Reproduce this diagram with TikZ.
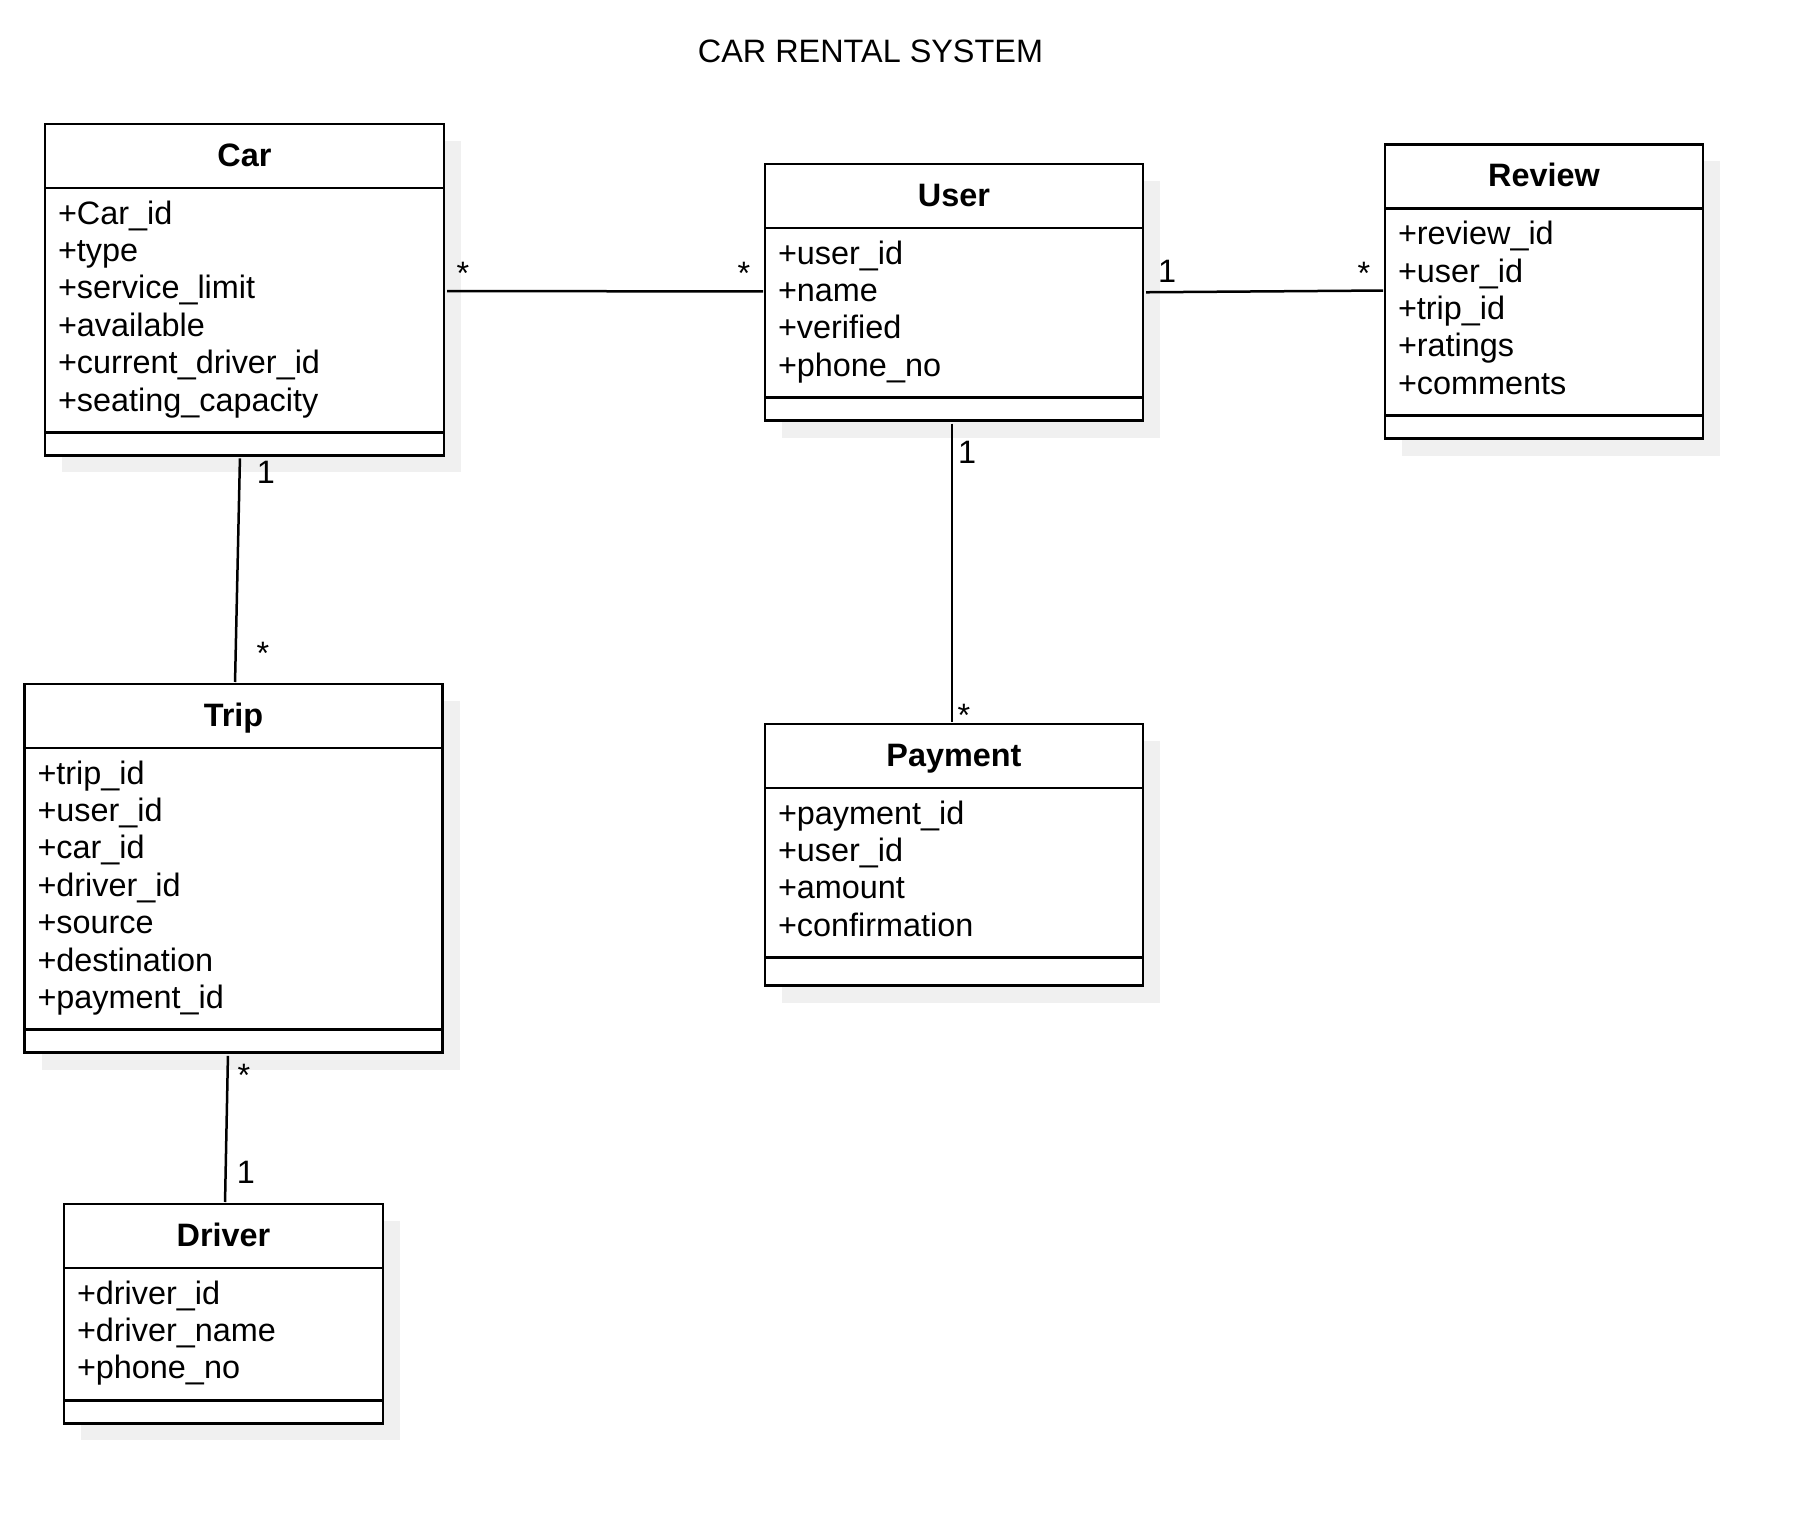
\documentclass[tikz,border=0pt]{standalone}
\usepackage{fontspec}
\setmainfont{Liberation Sans}
\usetikzlibrary{positioning,backgrounds}
\definecolor{shadowgray}{HTML}{F0F0F0}

\begin{document}
\begin{tikzpicture}[
  x=1pt,y=-1pt,
  font=\fontsize{32.4}{37.4}\selectfont,
  box/.style={draw,fill=white,line width=2.7pt,outer sep=0pt},
  head/.style={box,minimum height=64pt,text height=24pt,text depth=3pt,font=\fontsize{32.4}{37.4}\selectfont\bfseries},
  attrs/.style={box,align=left,inner xsep=13pt,inner ysep=10pt,execute at begin node=\strut,execute at end node=\strut},
  ops/.style={box,minimum height=23pt},
  assoc/.style={line width=2.5pt,shorten <=3pt,shorten >=2pt},
  mult/.style={anchor=base,inner sep=0pt}
]
\useasboundingbox (0,0) rectangle (1802,1522);
\node[anchor=base] (title) at (870.5,63) {CAR RENTAL SYSTEM};

\node[head,minimum width=399pt] (car) at (244.5,156) {Car};
\node[attrs,text width=373pt,below=0pt of car] (car-attrs) {+Car\_id\\+type\\+service\_limit\\+available\\+current\_driver\_id\\+seating\_capacity};
\node[ops,minimum width=399pt,below=0pt of car-attrs] (car-ops) {};

\node[head,minimum width=378pt] (user) at (954,196) {User};
\node[attrs,text width=352pt,below=0pt of user] (user-attrs) {+user\_id\\+name\\+verified\\+phone\_no};
\node[ops,minimum width=378pt,below=0pt of user-attrs] (user-ops) {};

\node[head,minimum width=318pt] (review) at (1544,176.5) {Review};
\node[attrs,text width=292pt,below=0pt of review] (review-attrs) {+review\_id\\+user\_id\\+trip\_id\\+ratings\\+comments};
\node[ops,minimum width=318pt,below=0pt of review-attrs] (review-ops) {};

\node[head,minimum width=418pt] (trip) at (233.5,716) {Trip};
\node[attrs,text width=392pt,below=0pt of trip] (trip-attrs) {+trip\_id\\+user\_id\\+car\_id\\+driver\_id\\+source\\+destination\\+payment\_id};
\node[ops,minimum width=418pt,below=0pt of trip-attrs] (trip-ops) {};

\node[head,minimum width=378pt] (payment) at (954,756) {Payment};
\node[attrs,text width=352pt,below=0pt of payment] (payment-attrs) {+payment\_id\\+user\_id\\+amount\\+confirmation};
\node[ops,minimum width=378pt,minimum height=28pt,below=0pt of payment-attrs] (payment-ops) {};

\node[head,minimum width=319pt] (driver) at (223.5,1236) {Driver};
\node[attrs,text width=293pt,below=0pt of driver] (driver-attrs) {+driver\_id\\+driver\_name\\+phone\_no};
\node[ops,minimum width=319pt,below=0pt of driver-attrs] (driver-ops) {};

\draw[assoc] ([yshift=19pt]car-attrs.east) -- ([yshift=21.5pt]user-attrs.west);
\draw[assoc] ([yshift=20.5pt]user-attrs.east) -- ([yshift=21.5pt]review-attrs.west);
\draw[assoc] ([xshift=-4.5pt]car-ops.south) -- ([xshift=1.5pt]trip.north);
\draw[assoc] ([xshift=-2pt]user-ops.south) -- ([xshift=-2pt]payment.north);
\draw[assoc] ([xshift=-5.5pt]trip-ops.south) -- ([xshift=1.5pt]driver.north);

\node[mult] (m-car-user) at (463,285) {*};
\node[mult] (m-user-car) at (744,285) {*};
\node[mult] (m-user-review) at (1167,283) {1};
\node[mult] (m-review-user) at (1364,285) {*};
\node[mult] (m-car-trip) at (266,483) {1};
\node[mult] (m-trip-car) at (263,664.5) {*};
\node[mult] (m-user-payment) at (967,463) {1};
\node[mult] (m-payment-user) at (964,726) {*};
\node[mult] (m-trip-driver) at (244,1086) {*};
\node[mult] (m-driver-trip) at (246,1183) {1};

\begin{scope}[on background layer]
\fill[white] (0,0) rectangle (1802,1522);
\foreach \c in {car,user,review,trip,payment,driver}
  \fill[shadowgray] ([shift={(17pt,-17pt)}]\c.north west) rectangle ([shift={(17pt,-17pt)}]\c-ops.south east);
\end{scope}
\end{tikzpicture}
\end{document}
